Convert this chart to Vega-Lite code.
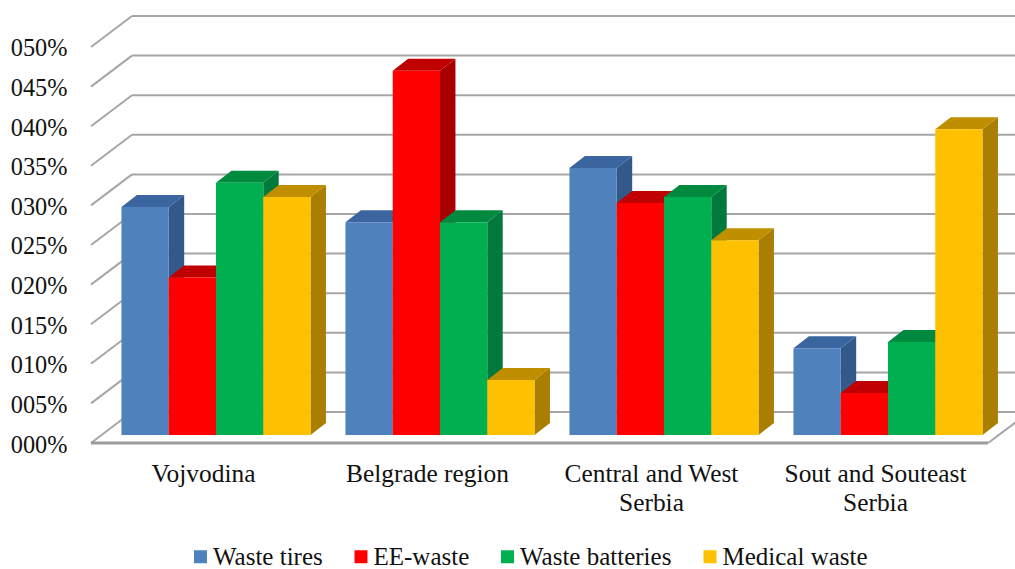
{"$schema":"https://vega.github.io/schema/vega-lite/v6.json","width":924,"height":443,"padding":{"left":91,"top":0,"right":0,"bottom":126},"autosize":"none","background":"white","config":{"view":{"stroke":null},"font":"Liberation Serif"},
"datasets":{"bars":[
{"region":"Vojvodina","series":"Waste tires","value":28.8},{"region":"Vojvodina","series":"EE-waste","value":19.9},{"region":"Vojvodina","series":"Waste batteries","value":31.85},{"region":"Vojvodina","series":"Medical waste","value":30.05},
{"region":"Belgrade region","series":"Waste tires","value":26.85},{"region":"Belgrade region","series":"EE-waste","value":46},{"region":"Belgrade region","series":"Waste batteries","value":26.85},{"region":"Belgrade region","series":"Medical waste","value":6.95},
{"region":"Central and West Serbia","series":"Waste tires","value":33.7},{"region":"Central and West Serbia","series":"EE-waste","value":29.3},{"region":"Central and West Serbia","series":"Waste batteries","value":30.05},{"region":"Central and West Serbia","series":"Medical waste","value":24.6},
{"region":"Sout and Souteast Serbia","series":"Waste tires","value":10.95},{"region":"Sout and Souteast Serbia","series":"EE-waste","value":5.3},{"region":"Sout and Souteast Serbia","series":"Waste batteries","value":11.75},{"region":"Sout and Souteast Serbia","series":"Medical waste","value":38.6}],
"grid":[{"v":0},{"v":5},{"v":10},{"v":15},{"v":20},{"v":25},{"v":30},{"v":35},{"v":40},{"v":45},{"v":50}]},
"data":{"name":"bars"},
"transform":[{"calculate":"indexof(['Vojvodina','Belgrade region','Central and West Serbia','Sout and Souteast Serbia'],datum.region)+0.136+0.211*indexof(['Waste tires','EE-waste','Waste batteries','Medical waste'],datum.series)","as":"x0"},{"calculate":"[0,1]","as":"t"},{"flatten":["t"]}],
"encoding":{
"x":{"field":"px","type":"quantitative","title":null,"scale":{"domain":[0,4.125],"nice":false,"zero":false},"axis":{"values":[0.5,1.5,2.5,3.5],"grid":false,"ticks":false,"domain":false,"labelFont":"Liberation Serif","labelFontSize":25.4,"labelColor":"#111111","labelPadding":18,"labelLineHeight":29,"labelLimit":400,"labelOverlap":false,"labelBound":false,"labelFlush":false,"labelAngle":0,"labelExpr":"datum.value==0.5?'Vojvodina':datum.value==1.5?'Belgrade region':datum.value==2.5?['Central and West','Serbia']:['Sout and Souteast','Serbia']"}},
"y":{"field":"py","type":"quantitative","title":null,"scale":{"domain":[0,55.934],"nice":false,"zero":false},"axis":{"values":[0,5,10,15,20,25,30,35,40,45,50],"grid":false,"ticks":false,"domain":false,"labelFont":"Liberation Serif","labelFontSize":24.3,"labelColor":"#111111","labelPadding":24,"labelOffset":2,"labelOverlap":false,"labelBound":false,"labelFlush":false,"labelExpr":"(datum.value<10?'00':'0')+datum.value+'%'"}}},
"layer":[
{"data":{"name":"grid"},"transform":[{"calculate":"0.183","as":"px"},{"calculate":"4.125","as":"pxe"},{"calculate":"datum.v+3.914","as":"py"}],"mark":{"type":"rule","color":"#a6a6a6","strokeWidth":2,"clip":true},"encoding":{"x2":{"field":"pxe"}}},
{"data":{"name":"grid"},"transform":[{"calculate":"0","as":"px"},{"calculate":"0.183","as":"pxe"},{"calculate":"datum.v","as":"py"},{"calculate":"datum.v+3.914","as":"pye"}],"mark":{"type":"rule","color":"#a6a6a6","strokeWidth":2},"encoding":{"x2":{"field":"pxe"},"y2":{"field":"pye"}}},
{"data":{"name":"grid"},"transform":[{"filter":"datum.v==0"},{"calculate":"4.005","as":"px"},{"calculate":"4.188","as":"pxe"},{"calculate":"0","as":"py"},{"calculate":"3.914","as":"pye"}],"mark":{"type":"rule","color":"#a6a6a6","strokeWidth":2,"clip":true},"encoding":{"x2":{"field":"pxe"},"y2":{"field":"pye"}}},
{"data":{"name":"grid"},"transform":[{"filter":"datum.v==0"},{"calculate":"0","as":"px"},{"calculate":"4.005","as":"pxe"},{"calculate":"0","as":"py"}],"mark":{"type":"rule","color":"#9c9c9c","strokeWidth":3},"encoding":{"x2":{"field":"pxe"}}},
{"transform":[{"calculate":"datum.x0+0.211+datum.t*0.069","as":"px"},{"calculate":"datum.value+1.01+datum.t*1.515","as":"py"},{"calculate":"1.01+datum.t*1.515","as":"pye"}],"mark":{"type":"area","orient":"vertical"},"encoding":{"y2":{"field":"pye"},"detail":{"field":"region"},"color":{"field":"series","type":"nominal","legend":null,"scale":{"domain":["Waste tires","EE-waste","Waste batteries","Medical waste"],"range":["#34588A","#A80000","#007A3C","#A87F00"]}}}},
{"transform":[{"calculate":"datum.x0+datum.t*0.069","as":"px"},{"calculate":"datum.x0+0.211+datum.t*0.069","as":"pxe"},{"calculate":"datum.value+1.01+datum.t*1.515","as":"py"}],"mark":{"type":"area","orient":"horizontal"},"encoding":{"x2":{"field":"pxe"},"detail":{"field":"region"},"color":{"field":"series","type":"nominal","legend":null,"scale":{"domain":["Waste tires","EE-waste","Waste batteries","Medical waste"],"range":["#3B659F","#C00000","#008A3F","#BF8F00"]}}}},
{"transform":[{"filter":"datum.t==0"},{"calculate":"datum.x0","as":"px"},{"calculate":"datum.x0+0.211","as":"pxe"},{"calculate":"datum.value+1.01","as":"py"},{"calculate":"1.01","as":"pye"}],"mark":{"type":"rect"},"encoding":{"x2":{"field":"pxe"},"y2":{"field":"pye"},"color":{"field":"series","type":"nominal","scale":{"domain":["Waste tires","EE-waste","Waste batteries","Medical waste"],"range":["#4F81BD","#FF0000","#00B050","#FFC000"]},"legend":{"title":null,"orient":"none","direction":"horizontal","legendX":97,"legendY":544,"symbolType":"square","symbolSize":169,"symbolStrokeWidth":0,"labelFont":"Liberation Serif","labelFontSize":25,"labelColor":"#111111","labelOffset":0,"columnPadding":25.5,"labelLimit":300}}}}
],
"resolve":{"scale":{"color":"independent"}}}
